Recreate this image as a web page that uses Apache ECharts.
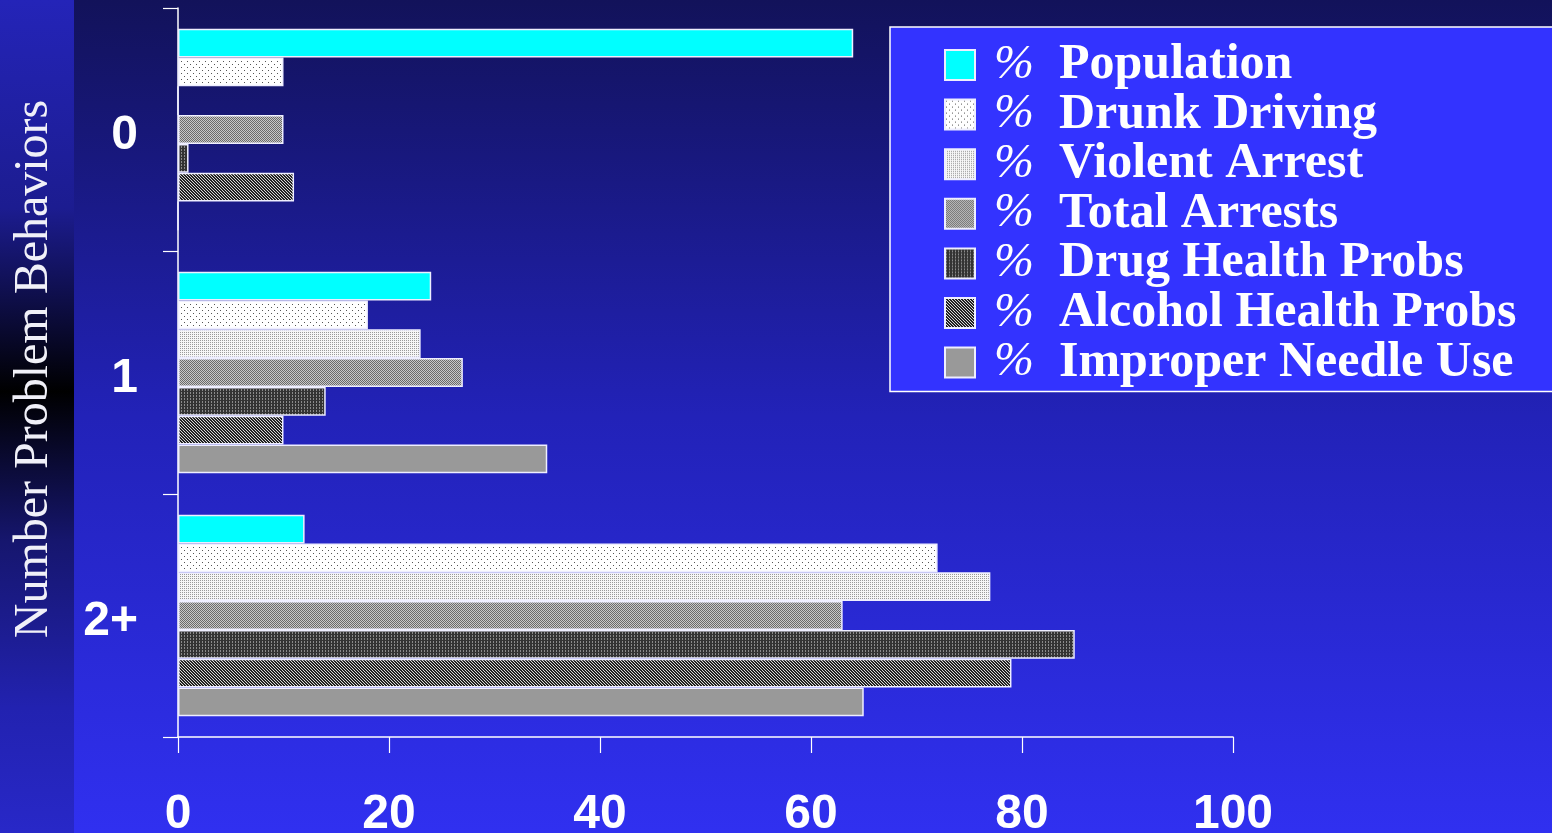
<!DOCTYPE html>
<html>
<head>
<meta charset="utf-8">
<script src="https://cdn.jsdelivr.net/npm/echarts@6/dist/echarts.min.js"></script>
<style>
  html, body { margin: 0; padding: 0; }
  #chart { width: 1552px; height: 833px; }
</style>
</head>
<body>
<div id="chart"></div>
<script>
// categories and values
const categories = ['0', '1', '2+']
const seriesNames = ['Population', 'Drunk Driving', 'Violent Arrest', 'Total Arrests',
  'Drug Health Probs', 'Alcohol Health Probs', 'Improper Needle Use']
const population = [64, 24, 12]
const drunkDriving = [10, 18, 72]
const violentArrest = [0, 23, 77]
const totalArrests = [10, 27, 63]
const drugHealth = [1, 14, 85]
const alcoholHealth = [11, 10, 79]
const needleUse = [0, 35, 65]
const xTicks = [0, 20, 40, 60, 80, 100]

const values = [population, drunkDriving, violentArrest, totalArrests, drugHealth, alcoholHealth, needleUse]

// small pixel tiles used as fills
function tile (size, bg, fg, pts) {
  const c = document.createElement('canvas')
  c.width = size
  c.height = size
  const ctx = c.getContext('2d')
  ctx.fillStyle = bg
  ctx.fillRect(0, 0, size, size)
  ctx.fillStyle = fg
  pts.forEach(p => ctx.fillRect(p[0], p[1], 1, 1))
  return { image: c, repeat: 'repeat' }
}

const fills = [
  '#00ffff',
  tile(6, '#ffffff', '#555555', [[1, 1], [4, 4]]),
  tile(2, '#f6f6f6', '#9a9a9a', [[0, 0]]),
  tile(2, '#c8c8c8', '#6a6a6a', [[0, 0], [1, 1]]),
  tile(3, '#333333', '#8a8a8a', [[1, 0], [1, 2]]),
  tile(3, '#d8d8d8', '#222222', [[0, 0], [1, 1], [2, 2], [1, 0], [2, 1], [0, 2]]),
  '#999999'
]

const chart = echarts.init(document.getElementById('chart'))

const option = {
  backgroundColor: {
    type: 'linear', x: 0, y: 0, x2: 0, y2: 1,
    colorStops: [
      { offset: 0, color: '#12125a' },
      { offset: 0.5, color: '#2222b8' },
      { offset: 1, color: '#3030f0' }
    ]
  },
  graphic: [
    {
      type: 'rect',
      z: -10,
      silent: true,
      shape: { x: 0, y: 0, width: 74, height: 833 },
      style: {
        fill: {
          type: 'linear', x: 0, y: 0, x2: 0, y2: 1,
          colorStops: [
            { offset: 0, color: '#2424b8' },
            { offset: 0.25, color: '#1c1c90' },
            { offset: 0.47, color: '#000000' },
            { offset: 0.65, color: '#16166e' },
            { offset: 0.85, color: '#2222b0' },
            { offset: 1, color: '#2828c8' }
          ]
        }
      }
    },
    {
      type: 'text',
      silent: true,
      x: 34,
      y: 369,
      rotation: Math.PI / 2,
      style: {
        text: 'Number Problem Behaviors',
        fill: '#f0f0f8',
        font: '48px "Liberation Serif"',
        align: 'center',
        verticalAlign: 'middle'
      }
    }
  ],
  grid: { left: 178, right: 319, top: 8, bottom: 96, outerBoundsMode: 'none' },
  legend: {
    orient: 'vertical',
    left: 890,
    top: 27,
    backgroundColor: '#3333ff',
    borderColor: '#ffffff',
    borderWidth: 1.5,
    padding: [13, 60, 4, 54],
    itemWidth: 30,
    itemHeight: 30,
    itemGap: -0.4,
    itemTextGap: 5,
    icon: 'rect',
    data: seriesNames,
    formatter: name => '{p|%}{n|' + name + '}',
    textStyle: {
      color: '#ffffff',
      lineHeight: 49.6,
      rich: {
        p: { fontFamily: 'Liberation Serif', fontSize: 48, fontStyle: 'italic', width: 65, lineHeight: 49.6, padding: [0, 0, 0, 14], color: '#ffffff' },
        n: { fontFamily: 'Liberation Serif', fontSize: 50, fontWeight: 'bold', lineHeight: 49.6, color: '#ffffff' }
      }
    }
  },
  xAxis: {
    type: 'value',
    min: 0,
    max: 100,
    interval: 20,
    splitLine: { show: false },
    axisLine: { show: true, lineStyle: { color: '#ffffff', width: 1.5 } },
    axisTick: { show: true, length: 16, lineStyle: { color: '#ffffff', width: 1.2 } },
    axisLabel: {
      color: '#ffffff',
      fontSize: 48,
      fontWeight: 'bold',
      fontFamily: 'Liberation Sans',
      margin: 54,
      formatter: v => xTicks.indexOf(v) >= 0 ? String(v) : ''
    }
  },
  yAxis: {
    type: 'category',
    inverse: true,
    data: categories,
    axisLine: { show: true, lineStyle: { color: '#ffffff', width: 1.5 } },
    axisTick: { show: true, length: 15, lineStyle: { color: '#ffffff', width: 1.2 } },
    axisLabel: {
      margin: 40,
      formatter: v => '{a|' + v + '}',
      rich: {
        a: {
          color: '#ffffff',
          fontSize: 48,
          fontWeight: 'bold',
          fontFamily: 'Liberation Sans',
          padding: [12, 0, 0, 0]
        }
      }
    }
  },
  series: seriesNames.map((name, i) => ({
    name: name,
    type: 'bar',
    data: values[i],
    barGap: '0%',
    barCategoryGap: '17%',
    itemStyle: { color: fills[i], borderColor: '#eeeeff', borderWidth: 1.5 }
  }))
}

chart.setOption(option)
</script>
</body>
</html>
